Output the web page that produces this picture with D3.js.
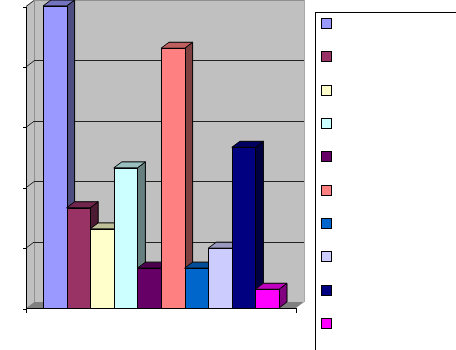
<!DOCTYPE html>
<html lang="en">
<head>
    <meta charset="UTF-8">
    <title>3D columns</title>
    <script src="https://d3js.org/d3.v7.min.js"></script>
    <style>
        body { margin: 0; background: #fff; }
        svg { display: block; }
        .edge { shape-rendering: crispEdges; }
    </style>
</head>
<body>
<svg width="456" height="350"></svg>
<script>
    // data
    var series = ["S1", "S2", "S3", "S4", "S5", "S6", "S7", "S8", "S9", "S10"];
    var values = [50, 16.6, 13.1, 23.2, 6.6, 43, 6.6, 9.9, 26.6, 3.1];
    var colors = ["#9999FF", "#993366", "#FFFFCC", "#CCFFFF", "#660066",
                  "#FF8080", "#0066CC", "#CCCCFF", "#000080", "#FF00FF"];
    var tickValues = [0, 10, 20, 30, 40, 50];

    var svg = d3.select("svg");

    // front plane of the plot, plus depth offset of the 3d box
    var pLeft = 26, pRight = 296, pTop = 6, pBottom = 308;
    var dx = 8, dy = 6;

    var x = d3.scaleBand()
        .domain(series)
        .range([pLeft, pRight])
        .paddingInner(0)
        .paddingOuter(0.72);

    var y = d3.scaleLinear()
        .domain([0, 50])
        .range([pBottom, pTop]);

    function pts(a) { return a.map(function(p) { return p.join(","); }).join(" "); }

    // back wall
    svg.append("polygon")
        .attr("points", pts([[pLeft + dx, pTop - dy], [pRight + dx, pTop - dy], [pRight + dx, pBottom - dy], [pLeft + dx, pBottom - dy]]))
        .attr("fill", "#c0c0c0");
    // side wall
    svg.append("polygon")
        .attr("points", pts([[pLeft, pTop], [pLeft + dx, pTop - dy], [pLeft + dx, pBottom - dy], [pLeft, pBottom]]))
        .attr("fill", "#c0c0c0");
    // floor
    svg.append("polygon")
        .attr("points", pts([[pLeft, pBottom], [pLeft + dx, pBottom - dy], [pRight + dx, pBottom - dy], [pRight, pBottom]]))
        .attr("fill", "#808080");

    // wall edges
    svg.append("line").attr("class", "edge")
        .attr("x1", pLeft + dx + 0.5).attr("x2", pLeft + dx + 0.5)
        .attr("y1", pTop - dy).attr("y2", pBottom - dy)
        .attr("stroke", "#909090");
    svg.append("line").attr("class", "edge")
        .attr("x1", pRight + dx + 0.5).attr("x2", pRight + dx + 0.5)
        .attr("y1", pTop - dy).attr("y2", pBottom - dy)
        .attr("stroke", "#a8a8a8");
    svg.append("line").attr("class", "edge")
        .attr("x1", pLeft + dx).attr("x2", pRight + dx)
        .attr("y1", pTop - dy + 0.5).attr("y2", pTop - dy + 0.5)
        .attr("stroke", "#909090");

    // gridlines on back wall and side wall
    var grid = svg.append("g");
    tickValues.slice(1).forEach(function(t) {
        if (t < 50) {
            grid.append("line").attr("class", "edge")
                .attr("x1", pLeft + dx).attr("x2", pRight + dx)
                .attr("y1", y(t) - dy + 0.5).attr("y2", y(t) - dy + 0.5)
                .attr("stroke", "#222");
        }
        grid.append("line")
            .attr("x1", pLeft).attr("x2", pLeft + dx)
            .attr("y1", y(t) + 0.5).attr("y2", y(t) - dy + 0.5)
            .attr("stroke", "#222");
    });

    // bars
    var bars = svg.append("g");
    series.forEach(function(s, i) {
        var x0 = x(s), x1 = x(s) + x.bandwidth(), yt = y(values[i]);
        var c = d3.rgb(colors[i]);
        bars.append("polygon")
            .attr("points", pts([[x1, yt], [x1 + dx, yt - dy], [x1 + dx, pBottom - dy], [x1, pBottom]]))
            .attr("fill", d3.rgb(c.r * 0.5, c.g * 0.5, c.b * 0.5).formatHex())
            .attr("stroke", "#000");
        bars.append("polygon")
            .attr("points", pts([[x0, yt], [x0 + dx, yt - dy], [x1 + dx, yt - dy], [x1, yt]]))
            .attr("fill", d3.rgb(c.r * 0.75, c.g * 0.75, c.b * 0.75).formatHex())
            .attr("stroke", "#000");
        bars.append("rect").attr("class", "edge")
            .attr("x", x0 + 0.5).attr("y", yt + 0.5)
            .attr("width", x.bandwidth()).attr("height", pBottom - yt)
            .attr("fill", colors[i])
            .attr("stroke", "#000");
    });

    // axes
    var yAxis = d3.axisLeft(y).tickValues(tickValues).tickSize(4).tickFormat("");
    svg.append("g").attr("class", "edge")
        .attr("transform", "translate(" + (pLeft + 0.5) + ",0.5)")
        .call(yAxis)
        .call(function(g) {
            g.select(".domain").attr("d", "M0," + pTop + "V" + pBottom);
            g.selectAll("text").remove();
        });

    svg.append("g").attr("class", "edge")
        .append("path")
        .attr("d", "M" + (pLeft + 0.5) + "," + (pBottom + 5) + "V" + (pBottom + 0.5) + "H" + (pRight + 0.5) + "V" + (pBottom + 5))
        .attr("fill", "none")
        .attr("stroke", "#000");

    // legend
    var legend = svg.append("g");
    legend.append("rect").attr("class", "edge")
        .attr("x", 315.5).attr("y", 12.5)
        .attr("width", 300).attr("height", 400)
        .attr("fill", "#fff").attr("stroke", "#000");
    var ly = d3.scaleLinear().domain([0, series.length - 1]).range([18, 318]);
    series.forEach(function(s, i) {
        legend.append("rect").attr("class", "edge")
            .attr("x", 321.5).attr("y", Math.round(ly(i)) + 0.5)
            .attr("width", 10).attr("height", 10)
            .attr("fill", colors[i]).attr("stroke", "#000");
    });
</script>
</body>
</html>
